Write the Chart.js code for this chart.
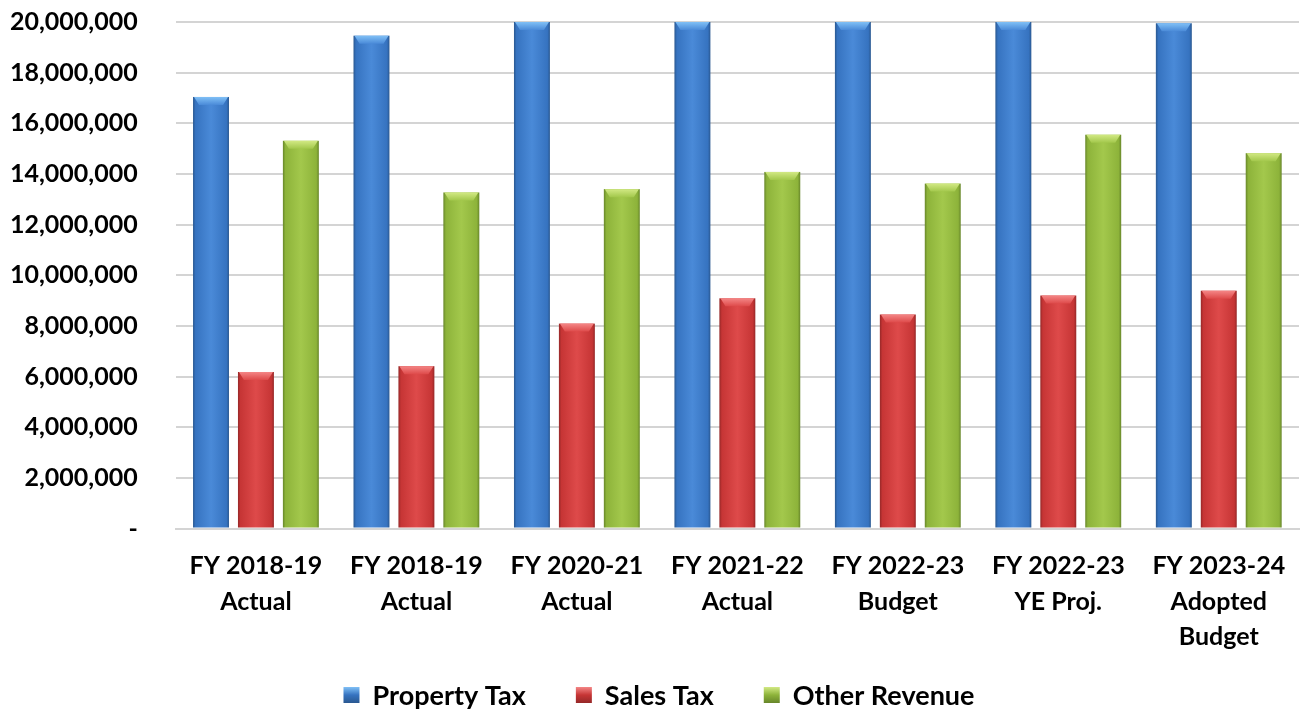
<!DOCTYPE html>
<html>
    <head>
        <title>General Fund Revenue</title>
        <style>
            body { margin: 0; background: #fff; }
            canvas { display: block; }
        </style>
        <script src="https://cdn.jsdelivr.net/npm/chart.js"></script>
    </head>
<body>
    <canvas id="revenueChart" width="1301" height="711"></canvas>

    <script>
        // categories and values
        const categories = [
            ["FY 2018-19", "Actual"],
            ["FY 2018-19", "Actual"],
            ["FY 2020-21", "Actual"],
            ["FY 2021-22", "Actual"],
            ["FY 2022-23", "Budget"],
            ["FY 2022-23", "YE Proj."],
            ["FY 2023-24", "Adopted", "Budget"]
        ];
        // bars 3-6 run past the top of the axis, so their height is a guess
        const propertyTax = [17040000, 19460000, 21000000, 21500000, 22000000, 22500000, 19950000];
        const salesTax = [6180000, 6410000, 8090000, 9090000, 8450000, 9200000, 9390000];
        const otherRevenue = [15310000, 13270000, 13400000, 14080000, 13620000, 15550000, 14820000];
        const seriesNames = ["Property Tax", "Sales Tax", "Other Revenue"];

        const palettes = [
            { dark: "#2a5890", mid: "#3673c0", light: "#4a8ad8", top: "#80c0f6" },
            { dark: "#952828", mid: "#c63535", light: "#de4a4a", top: "#f48686" },
            { dark: "#67862a", mid: "#8db33a", light: "#a3c84c", top: "#d2e984" }
        ];

        const FONT = "Lato, 'Open Sans', sans-serif";

        // draws each bar as a shaded column with a bevelled top
        const shadedBars = {
            id: "shadedBars",
            beforeDatasetDraw(chart, args) {
                const ctx = chart.ctx;
                const area = chart.chartArea;
                const pal = palettes[args.index];
                ctx.save();
                ctx.beginPath();
                ctx.rect(area.left, area.top, area.right - area.left, area.bottom - area.top);
                ctx.clip();
                args.meta.data.forEach(function(el) {
                    const p = el.getProps(["x", "y", "base", "width"], true);
                    const left = p.x - p.width / 2;
                    const right = p.x + p.width / 2;
                    const top = Math.max(p.y, area.top);

                    let g = ctx.createLinearGradient(left, 0, right, 0);
                    g.addColorStop(0, pal.dark);
                    g.addColorStop(0.07, pal.mid);
                    g.addColorStop(0.5, pal.light);
                    g.addColorStop(0.93, pal.mid);
                    g.addColorStop(1, pal.dark);
                    ctx.fillStyle = g;
                    ctx.fillRect(left, top, p.width, p.base - top);

                    // bevel on top
                    const bh = 8, inset = 6;
                    let tg = ctx.createLinearGradient(0, top, 0, top + bh);
                    tg.addColorStop(0, pal.top);
                    tg.addColorStop(1, pal.light);
                    ctx.fillStyle = tg;
                    ctx.beginPath();
                    ctx.moveTo(left + 1, top);
                    ctx.lineTo(right - 1, top);
                    ctx.lineTo(right - inset, top + bh);
                    ctx.lineTo(left + inset, top + bh);
                    ctx.closePath();
                    ctx.fill();
                });
                ctx.restore();
                return false;
            }
        };

        // legend row under the axis labels
        const bottomLegend = {
            id: "bottomLegend",
            afterDraw(chart) {
                const ctx = chart.ctx;
                const box = 16, gap = 13, spacing = 50;
                ctx.save();
                ctx.font = "bold 27px " + FONT;
                ctx.textBaseline = "middle";
                ctx.textAlign = "left";
                const widths = chart.data.datasets.map(d => box + gap + ctx.measureText(d.label).width);
                const total = widths.reduce((a, b) => a + b, 0) + spacing * (widths.length - 1);
                let x = 659 - total / 2;
                const y = chart.height - 16;
                chart.data.datasets.forEach(function(d, i) {
                    const pal = palettes[i];
                    let g = ctx.createLinearGradient(0, y - box / 2, 0, y + box / 2);
                    g.addColorStop(0, pal.top);
                    g.addColorStop(0.5, pal.mid);
                    g.addColorStop(1, pal.dark);
                    ctx.fillStyle = g;
                    ctx.fillRect(x, y - box / 2, box, box);
                    ctx.fillStyle = "#000";
                    ctx.fillText(d.label, x + box + gap, y + 1);
                    x += widths[i] + spacing;
                });
                ctx.restore();
            }
        };

        let ctx = document.getElementById("revenueChart").getContext("2d");

        let chart = new Chart(ctx, {
            type: "bar",
            data: {
                labels: categories,
                datasets: [
                    { label: seriesNames[0], data: propertyTax, backgroundColor: palettes[0].mid },
                    { label: seriesNames[1], data: salesTax, backgroundColor: palettes[1].mid },
                    { label: seriesNames[2], data: otherRevenue, backgroundColor: palettes[2].mid }
                ]
            },
            options: {
                responsive: false,
                animation: false,
                categoryPercentage: 0.84,
                barPercentage: 0.8,
                layout: { padding: { top: 22, left: 10, right: 2, bottom: 56 } },
                plugins: {
                    legend: { display: false },
                    tooltip: { enabled: false }
                },
                scales: {
                    x: {
                        grid: { display: false, drawTicks: true, tickLength: 20, tickColor: "rgba(0,0,0,0)" },
                        border: { display: true, color: "#d4d4d4", width: 2 },
                        ticks: {
                            color: "#000",
                            padding: 0,
                            maxRotation: 0,
                            font: { family: FONT, size: 25, weight: "bold", lineHeight: 1.42 }
                        }
                    },
                    y: {
                        min: 0,
                        max: 20000000,
                        grid: { color: "#d4d4d4", lineWidth: 2, drawTicks: true, tickLength: 38, tickColor: "rgba(0,0,0,0)" },
                        border: { display: false },
                        ticks: {
                            stepSize: 2000000,
                            color: "#000",
                            padding: 0,
                            font: { family: FONT, size: 25, weight: "bold" },
                            callback: v => v === 0 ? "-" : v.toLocaleString("en-US")
                        }
                    }
                }
            },
            plugins: [shadedBars, bottomLegend]
        });
    </script>
</body>
</html>
